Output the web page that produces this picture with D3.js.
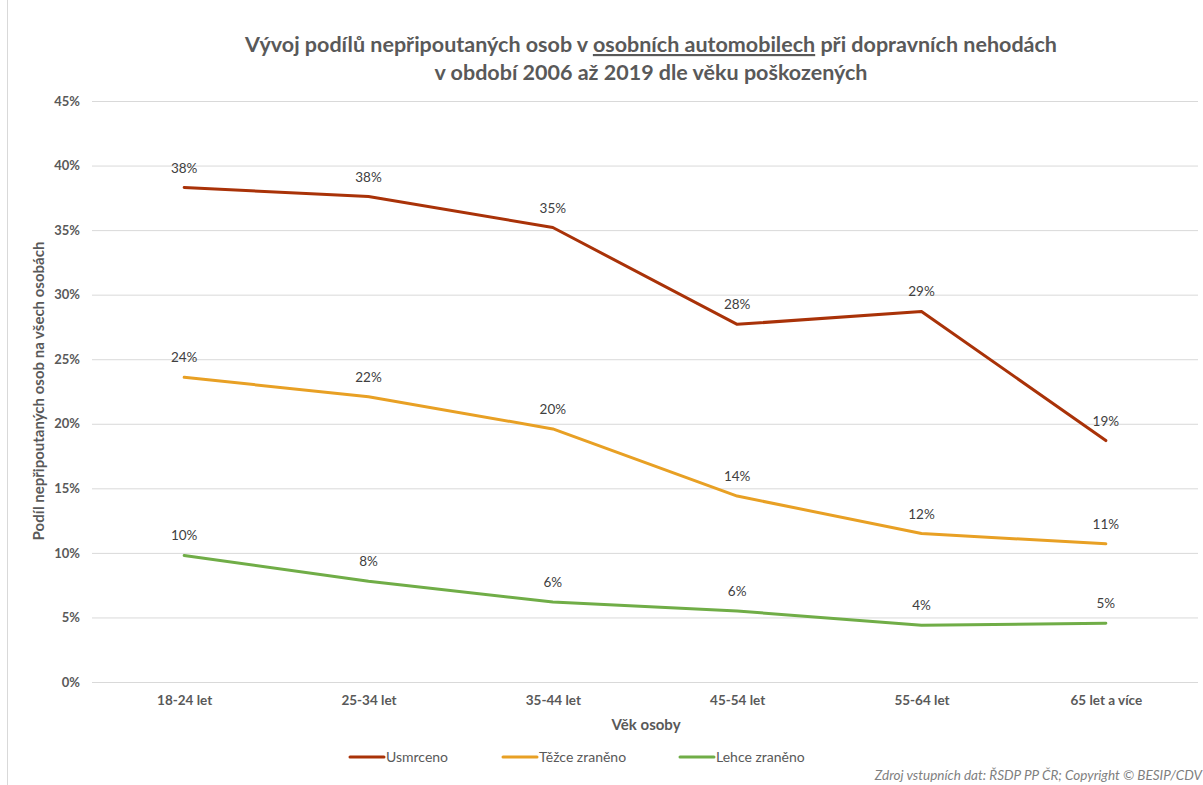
<!DOCTYPE html>
<html><head><meta charset="utf-8">
<script src="https://cdn.jsdelivr.net/npm/d3@7"></script>
<style>body{margin:0;background:#fff}svg{display:block}</style>
</head><body>
<svg id="c" width="1203" height="785"></svg>
<script>
const categories = ["18-24 let","25-34 let","35-44 let","45-54 let","55-64 let","65 let a více"];
const usmrceno = [38.3, 37.6, 35.2, 27.7, 28.7, 18.7];
const tezce = [23.6, 22.1, 19.6, 14.4, 11.5, 10.7];
const lehce = [9.8, 7.8, 6.2, 5.5, 4.4, 4.55];
const yTicks = [0,5,10,15,20,25,30,35,40,45];
const seriesNames = ["Usmrceno","Těžce zraněno","Lehce zraněno"];
const seriesColors = ["#A93208","#E8A024","#70AD47"];
const series = [usmrceno, tezce, lehce];

(function(){
const svg = d3.select("#c");
const font = "Lato, 'Open Sans', sans-serif";
const pL = 92, pR = 1198, pT = 101, pB = 682;

svg.append("rect").attr("x",7.5).attr("y",-1).attr("width",1300).attr("height",900)
  .attr("fill","none").attr("stroke","#d9d9d9");

const x = d3.scalePoint().domain(categories).range([pL, pR]).padding(0.5);
const y = d3.scaleLinear().domain([0,45]).range([pB, pT]);

const yAxis = d3.axisLeft(y).tickValues(yTicks).tickSize(-(pR-pL)).tickFormat(d=>d+"%");
const gy = svg.append("g").attr("transform",`translate(${pL},0)`).call(yAxis);
gy.select(".domain").remove();
gy.selectAll(".tick line").attr("stroke","#d9d9d9").attr("stroke-width",1);
gy.selectAll(".tick text").attr("x",-12).attr("fill","#595959")
  .style("font-family",font).style("font-size","13px").style("font-weight","bold");

const xAxis = d3.axisBottom(x).tickSize(0);
const gx = svg.append("g").attr("transform",`translate(0,${pB})`).call(xAxis);
gx.select(".domain").remove();
gx.selectAll(".tick text").attr("dy","20px").attr("fill","#595959")
  .style("font-family",font).style("font-size","13.5px").style("font-weight","bold");

const line = d3.line().x((d,i)=>x(categories[i])).y(d=>y(d));
series.forEach((s,k)=>{
  svg.append("path").datum(s).attr("d",line).attr("fill","none")
    .attr("stroke",seriesColors[k]).attr("stroke-width",3).attr("stroke-linejoin","round").attr("stroke-linecap","round");
});
series.forEach((s,k)=>{
  svg.append("g").selectAll("text").data(s).join("text")
    .attr("x",(d,i)=>x(categories[i])).attr("y",d=>y(d)-15)
    .attr("text-anchor","middle").attr("fill","#404040")
    .style("font-family",font).style("font-size","13.5px")
    .text(d=>Math.round(d)+"%");
});

const t = svg.append("text").attr("text-anchor","middle").attr("fill","#595959")
  .style("font-family",font).style("font-size","21.5px").style("font-weight","bold");
const l1 = t.append("tspan").attr("x",651).attr("y",52);
l1.append("tspan").text("Vývoj podílů nepřipoutaných osob v ");
l1.append("tspan").style("text-decoration","underline").text("osobních automobilech");
l1.append("tspan").text(" při dopravních nehodách");
t.append("tspan").attr("x",651).attr("y",80).text("v období 2006 až 2019 dle věku poškozených");

svg.append("text").attr("transform","translate(44,391) rotate(-90)").attr("text-anchor","middle")
  .attr("fill","#595959").style("font-family",font).style("font-size","15px").style("font-weight","bold")
  .text("Podíl nepřipoutaných  osob na všech osobách");
svg.append("text").attr("x",646).attr("y",730).attr("text-anchor","middle")
  .attr("fill","#595959").style("font-family",font).style("font-size","15px").style("font-weight","bold")
  .text("Věk osoby");

const legX = [350, 503, 680];
seriesNames.forEach((n,k)=>{
  const g = svg.append("g").attr("transform",`translate(${legX[k]},757)`);
  g.append("line").attr("x1",0).attr("x2",34).attr("y1",0).attr("y2",0)
    .attr("stroke",seriesColors[k]).attr("stroke-width",3).attr("stroke-linecap","round");
  g.append("text").attr("x",36).attr("y",5).attr("fill","#595959")
    .style("font-family",font).style("font-size","14px").text(n);
});

svg.append("text").attr("x",1202).attr("y",780).attr("text-anchor","end").attr("fill","#7f7f7f")
  .style("font-family",font).style("font-size","13.5px").style("font-style","italic")
  .text("Zdroj vstupních dat: ŘSDP PP ČR; Copyright © BESIP/CDV");
})();
</script>
</body></html>
